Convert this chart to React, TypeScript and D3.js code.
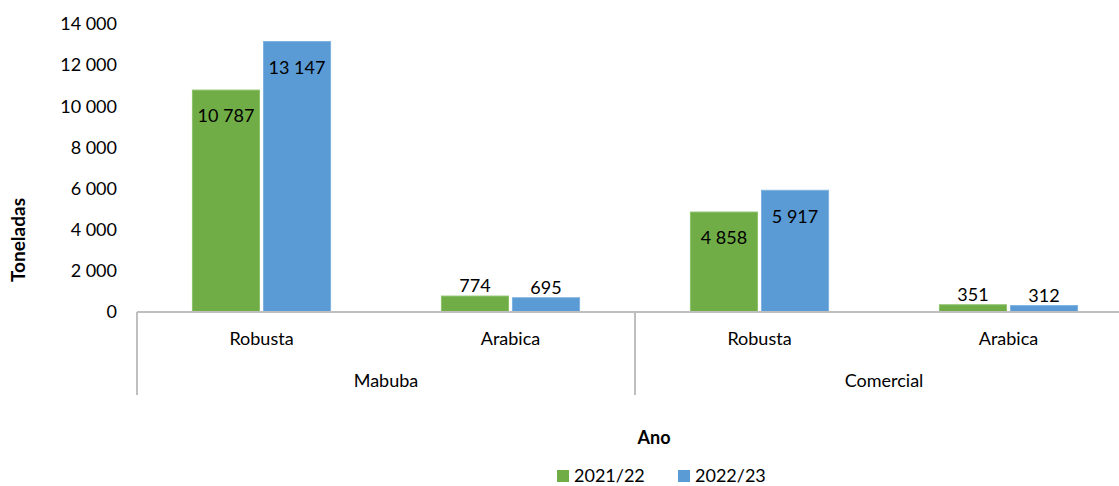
import React from "react";
import * as d3 from "d3";

const groups = ["Mabuba", "Comercial"];
const categories = ["Robusta", "Arabica"];
const series = ["2021/22", "2022/23"];
const values2021 = [10787, 774, 4858, 351];
const values2022 = [13147, 695, 5917, 312];
const yTicks = [0, 2000, 4000, 6000, 8000, 10000, 12000, 14000];
const colors = ["#70AD47", "#5B9BD5"];

const W = 1119;
const H = 486;
const FONT = "Lato, Calibri, 'Open Sans', sans-serif";

const fmt = (v: number) => {
  const s = String(Math.round(v));
  return s.replace(/\B(?=(\d{3})+(?!\d))/g, " ");
};

export default function App() {
  const left = 137;
  const right = 1133;
  const top = 24;
  const bottom = 312;

  const y = d3.scaleLinear().domain([0, 14000]).range([bottom, top]);
  const slots = groups.flatMap((g) => categories.map((c) => `${g}|${c}`));
  const x0 = d3.scaleBand().domain(slots).range([left, right]).padding(0);
  const x1 = d3
    .scaleBand()
    .domain(series)
    .range([0, x0.bandwidth()])
    .paddingInner(0.056)
    .paddingOuter(0.78);
  const gx = d3.scaleBand().domain(groups).range([left, right]).padding(0);

  const data = [values2021, values2022];
  const axisColor = "#BFBFBF";

  return (
    <svg width={W} height={H} style={{ display: "block", position: "absolute", left: 0, top: 0 }} fontFamily={FONT}>
      <rect x={0} y={0} width={W} height={H} fill="#fff" />
      {yTicks.map((t) => (
        <text key={t} x={117} y={y(t)} dy="0.35em" textAnchor="end" fontSize={18} fill="#000">
          {fmt(t)}
        </text>
      ))}
      {slots.map((slot, i) =>
        series.map((s, j) => {
          const v = data[j][i];
          const bx = (x0(slot) as number) + (x1(s) as number);
          const bw = x1.bandwidth();
          const by = y(v);
          const bh = bottom - by;
          const inside = bh > 40;
          return (
            <g key={slot + s}>
              <rect x={bx} y={by} width={bw} height={bh} fill={colors[j]} stroke={j === 0 ? "#8CC26A" : "#7FB2E0"} strokeWidth={1} />
              <text
                x={bx + bw / 2}
                y={inside ? by + 26 : by - 10}
                dy="0.35em"
                textAnchor="middle"
                fontSize={18}
                fill="#000"
              >
                {fmt(v)}
              </text>
            </g>
          );
        })
      )}
      <line x1={left} x2={right} y1={bottom} y2={bottom} stroke={axisColor} strokeWidth={2} />
      {[left, gx("Comercial") as number, right].map((xx, i) => (
        <line key={i} x1={xx} x2={xx} y1={bottom} y2={395} stroke={axisColor} strokeWidth={2} />
      ))}
      {slots.map((slot) => (
        <text
          key={slot}
          x={(x0(slot) as number) + x0.bandwidth() / 2}
          y={339}
          dy="0.35em"
          textAnchor="middle"
          fontSize={18}
          fill="#000"
        >
          {slot.split("|")[1]}
        </text>
      ))}
      {groups.map((g) => (
        <text
          key={g}
          x={(gx(g) as number) + gx.bandwidth() / 2}
          y={381}
          dy="0.35em"
          textAnchor="middle"
          fontSize={18}
          fill="#000"
        >
          {g}
        </text>
      ))}
      <text
        transform={`translate(18,240) rotate(-90)`}
        dy="0.35em"
        textAnchor="middle"
        fontSize={19}
        fontWeight="bold"
        fill="#000"
      >
        Toneladas
      </text>
      <text x={654} y={438} dy="0.35em" textAnchor="middle" fontSize={18} fontWeight="bold" fill="#000">
        Ano
      </text>
      {series.map((s, j) => (
        <g key={s} transform={`translate(${j === 0 ? 557 : 678},476)`}>
          <rect x={0} y={-6} width={12} height={12} fill={colors[j]} />
          <text x={17} y={0} dy="0.35em" fontSize={18} fill="#000">
            {s}
          </text>
        </g>
      ))}
    </svg>
  );
}
